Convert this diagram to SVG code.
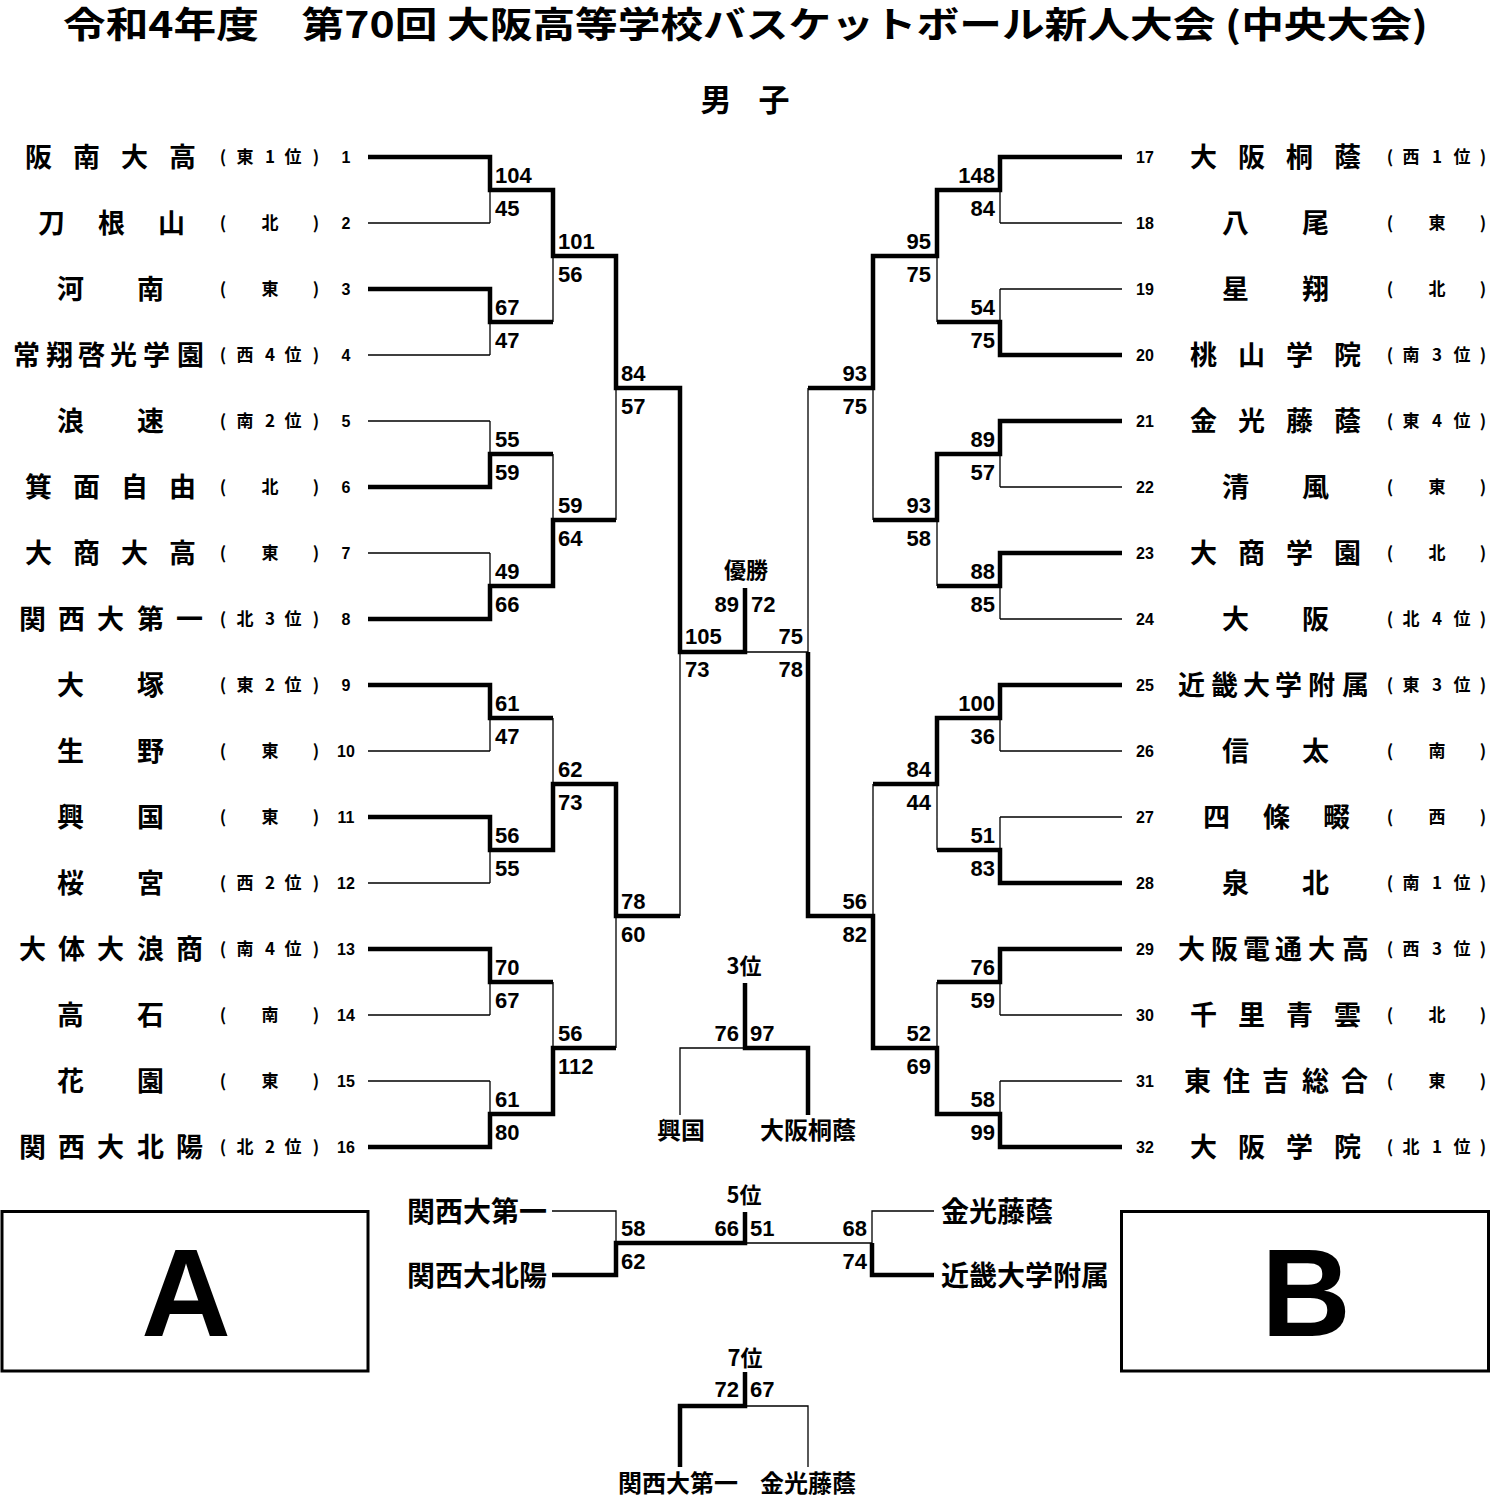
<svg xmlns="http://www.w3.org/2000/svg" width="1491" height="1500" viewBox="0 0 1491 1500">
<style>
text{fill:#000}
.title{font-family:"Noto Sans CJK JP","Noto Sans CJK SC",sans-serif;font-weight:700;font-size:36px}
.hd{font-family:"Noto Sans CJK JP","Noto Sans CJK SC",sans-serif;font-weight:700;font-size:31px}
.name{font-family:"Noto Sans CJK JP","Noto Sans CJK SC",sans-serif;font-weight:700;font-size:27px}
.seed{font-family:"Noto Sans CJK JP","Noto Sans CJK SC",sans-serif;font-weight:700;font-size:17px;text-anchor:middle}
.num{font-family:"Liberation Sans",Arial,sans-serif;font-weight:700;font-size:16px;text-anchor:middle}
.sc{font-family:"Liberation Sans",Arial,sans-serif;font-weight:700;font-size:22px}
.end{text-anchor:end}
.mid{text-anchor:middle}
.lbl{font-family:"Noto Sans CJK JP","Noto Sans CJK SC",sans-serif;font-weight:700;font-size:22px;text-anchor:middle}
.t24{font-family:"Noto Sans CJK JP","Noto Sans CJK SC",sans-serif;font-weight:700;font-size:24px;text-anchor:middle}
.t28{font-family:"Noto Sans CJK JP","Noto Sans CJK SC",sans-serif;font-weight:700;font-size:28px}
.big{font-family:"Liberation Sans",Arial,sans-serif;font-weight:700;font-size:124px;text-anchor:middle}
.thick{stroke:#000;stroke-width:4.5;fill:none;stroke-linejoin:miter}
.thin{stroke:#000;stroke-width:1.3;fill:none}
.box{stroke:#000;stroke-width:3;fill:#fff}
</style>
<rect width="1491" height="1500" fill="#fff"/>
<text class="title" x="63" y="38" textLength="1365" lengthAdjust="spacingAndGlyphs">令和4年度　第70回 大阪高等学校バスケットボール新人大会 (中央大会)</text>
<text class="hd mid" x="745" y="111" word-spacing="20">男 子</text>

<g id="connectors">
<path class="thin" d="M368 223H490M368 355H490M368 421H490M368 553H490M368 751H490M368 883H490M368 1015H490M368 1081H490M490 190V223M490 322V355M490 421V454M490 553V586M490 718V751M490 850V883M490 982V1015M490 1081V1114M553 256V322M553 454V520M553 718V784M553 982V1048M616 388V520M616 916V1048M680 652V916"/>
<path class="thin" d="M1000 223H1122M1000 289H1122M1000 487H1122M1000 619H1122M1000 751H1122M1000 817H1122M1000 1015H1122M1000 1081H1122M1000 190V223M1000 289V322M1000 454V487M1000 586V619M1000 718V751M1000 817V850M1000 982V1015M1000 1081V1114M937 256V322M937 520V586M937 784V850M937 982V1048M873 388V520M873 784V916M808 388V652M745 652H808"/>
<path class="thick" d="M368 157H490V190H553V256H616V388H680V652H745V588"/>
<path class="thick" d="M368 289H490V322H553"/>
<path class="thick" d="M368 487H490V454H553"/>
<path class="thick" d="M368 619H490V586H553V520H616"/>
<path class="thick" d="M368 685H490V718H553"/>
<path class="thick" d="M368 817H490V850H553V784H616V916H680"/>
<path class="thick" d="M368 949H490V982H553"/>
<path class="thick" d="M368 1147H490V1114H553V1048H616"/>
<path class="thick" d="M1122 157H1000V190H937V256H873V388H808"/>
<path class="thick" d="M1122 355H1000V322H937"/>
<path class="thick" d="M1122 421H1000V454H937V520H873"/>
<path class="thick" d="M1122 553H1000V586H937"/>
<path class="thick" d="M1122 685H1000V718H937V784H873"/>
<path class="thick" d="M1122 883H1000V850H937"/>
<path class="thick" d="M1122 949H1000V982H937"/>
<path class="thick" d="M1122 1147H1000V1114H937V1048H873V916H808V652"/>
<path class="thick" d="M745 983V1048H808V1115"/>
<path class="thin" d="M745 1048H680V1115"/>
<path class="thick" d="M552 1275H616V1243H745V1212"/>
<path class="thin" d="M552 1211H616V1243"/>
<path class="thick" d="M934 1275H872V1243"/>
<path class="thin" d="M934 1211H872V1243H745"/>
<path class="thick" d="M745 1372V1406H680V1467"/>
<path class="thin" d="M745 1406H808V1467"/>
</g>

<g id="scores">
<text class="sc" x="495" y="183">104</text><text class="sc" x="495" y="216">45</text>
<text class="sc" x="495" y="315">67</text><text class="sc" x="495" y="348">47</text>
<text class="sc" x="495" y="447">55</text><text class="sc" x="495" y="480">59</text>
<text class="sc" x="495" y="579">49</text><text class="sc" x="495" y="612">66</text>
<text class="sc" x="495" y="711">61</text><text class="sc" x="495" y="744">47</text>
<text class="sc" x="495" y="843">56</text><text class="sc" x="495" y="876">55</text>
<text class="sc" x="495" y="975">70</text><text class="sc" x="495" y="1008">67</text>
<text class="sc" x="495" y="1107">61</text><text class="sc" x="495" y="1140">80</text>
<text class="sc" x="558" y="249">101</text><text class="sc" x="558" y="282">56</text>
<text class="sc" x="558" y="513">59</text><text class="sc" x="558" y="546">64</text>
<text class="sc" x="558" y="777">62</text><text class="sc" x="558" y="810">73</text>
<text class="sc" x="558" y="1041">56</text><text class="sc" x="558" y="1074">112</text>
<text class="sc" x="621" y="381">84</text><text class="sc" x="621" y="414">57</text>
<text class="sc" x="621" y="909">78</text><text class="sc" x="621" y="942">60</text>
<text class="sc" x="685" y="644">105</text><text class="sc" x="685" y="677">73</text>
<text class="sc end" x="995" y="183">148</text><text class="sc end" x="995" y="216">84</text>
<text class="sc end" x="995" y="315">54</text><text class="sc end" x="995" y="348">75</text>
<text class="sc end" x="995" y="447">89</text><text class="sc end" x="995" y="480">57</text>
<text class="sc end" x="995" y="579">88</text><text class="sc end" x="995" y="612">85</text>
<text class="sc end" x="995" y="711">100</text><text class="sc end" x="995" y="744">36</text>
<text class="sc end" x="995" y="843">51</text><text class="sc end" x="995" y="876">83</text>
<text class="sc end" x="995" y="975">76</text><text class="sc end" x="995" y="1008">59</text>
<text class="sc end" x="995" y="1107">58</text><text class="sc end" x="995" y="1140">99</text>
<text class="sc end" x="931" y="249">95</text><text class="sc end" x="931" y="282">75</text>
<text class="sc end" x="931" y="513">93</text><text class="sc end" x="931" y="546">58</text>
<text class="sc end" x="931" y="777">84</text><text class="sc end" x="931" y="810">44</text>
<text class="sc end" x="931" y="1041">52</text><text class="sc end" x="931" y="1074">69</text>
<text class="sc end" x="867" y="381">93</text><text class="sc end" x="867" y="414">75</text>
<text class="sc end" x="867" y="909">56</text><text class="sc end" x="867" y="942">82</text>
<text class="sc end" x="803" y="644">75</text><text class="sc end" x="803" y="677">78</text>
</g>

<g id="final">
<text class="lbl" x="746" y="578">優勝</text>
<text class="sc end" x="739" y="612">89</text><text class="sc" x="751" y="612">72</text>
</g>
<g id="third">
<text class="lbl" x="744" y="974">3位</text>
<text class="sc end" x="739" y="1041">76</text><text class="sc" x="750" y="1041">97</text>
<text class="t24" x="681" y="1139">興国</text>
<text class="t24" x="808" y="1139">大阪桐蔭</text>
</g>
<g id="fifth">
<text class="lbl" x="744" y="1203">5位</text>
<text class="t28" x="407" y="1222">関西大第一</text>
<text class="t28" x="407" y="1286">関西大北陽</text>
<text class="t28" x="941" y="1222">金光藤蔭</text>
<text class="t28" x="941" y="1286">近畿大学附属</text>
<text class="sc" x="621" y="1236">58</text><text class="sc" x="621" y="1269">62</text>
<text class="sc end" x="739" y="1236">66</text><text class="sc" x="750" y="1236">51</text>
<text class="sc end" x="867" y="1236">68</text><text class="sc end" x="867" y="1269">74</text>
</g>
<g id="seventh">
<text class="lbl" x="745" y="1366">7位</text>
<text class="sc end" x="739" y="1397">72</text><text class="sc" x="750" y="1397">67</text>
<text class="t24" x="678" y="1492">関西大第一</text>
<text class="t24" x="808" y="1492">金光藤蔭</text>
</g>
<g id="box-A"><rect class="box" x="2" y="1211.5" width="366" height="159.5"/><text class="big" x="186" y="1336">A</text></g>
<g id="box-B"><rect class="box" x="1121.5" y="1211.5" width="367" height="159.5"/><text class="big" x="1306" y="1336">B</text></g>

<g id="team-1"><text class="name" x="25 73 121 169" y="167">阪南大高</text><text class="seed" x="223 245 270 293 316" y="163">(東1位)</text><text class="num" x="346" y="163">1</text></g>
<g id="team-2"><text class="name" x="38 98 158" y="233">刀根山</text><text class="seed" x="223 270 316" y="229">(北)</text><text class="num" x="346" y="229">2</text></g>
<g id="team-3"><text class="name" x="57 137" y="299">河南</text><text class="seed" x="223 270 316" y="295">(東)</text><text class="num" x="346" y="295">3</text></g>
<g id="team-4"><text class="name" x="13 46 78 110 143 177" y="365">常翔啓光学園</text><text class="seed" x="223 245 270 293 316" y="361">(西4位)</text><text class="num" x="346" y="361">4</text></g>
<g id="team-5"><text class="name" x="57 137" y="431">浪速</text><text class="seed" x="223 245 270 293 316" y="427">(南2位)</text><text class="num" x="346" y="427">5</text></g>
<g id="team-6"><text class="name" x="25 73 121 169" y="497">箕面自由</text><text class="seed" x="223 270 316" y="493">(北)</text><text class="num" x="346" y="493">6</text></g>
<g id="team-7"><text class="name" x="25 73 121 169" y="563">大商大高</text><text class="seed" x="223 270 316" y="559">(東)</text><text class="num" x="346" y="559">7</text></g>
<g id="team-8"><text class="name" x="19 58 97 137 176" y="629">関西大第一</text><text class="seed" x="223 245 270 293 316" y="625">(北3位)</text><text class="num" x="346" y="625">8</text></g>
<g id="team-9"><text class="name" x="57 137" y="695">大塚</text><text class="seed" x="223 245 270 293 316" y="691">(東2位)</text><text class="num" x="346" y="691">9</text></g>
<g id="team-10"><text class="name" x="57 137" y="761">生野</text><text class="seed" x="223 270 316" y="757">(東)</text><text class="num" x="346" y="757">10</text></g>
<g id="team-11"><text class="name" x="57 137" y="827">興国</text><text class="seed" x="223 270 316" y="823">(東)</text><text class="num" x="346" y="823">11</text></g>
<g id="team-12"><text class="name" x="57 137" y="893">桜宮</text><text class="seed" x="223 245 270 293 316" y="889">(西2位)</text><text class="num" x="346" y="889">12</text></g>
<g id="team-13"><text class="name" x="19 58 97 137 176" y="959">大体大浪商</text><text class="seed" x="223 245 270 293 316" y="955">(南4位)</text><text class="num" x="346" y="955">13</text></g>
<g id="team-14"><text class="name" x="57 137" y="1025">高石</text><text class="seed" x="223 270 316" y="1021">(南)</text><text class="num" x="346" y="1021">14</text></g>
<g id="team-15"><text class="name" x="57 137" y="1091">花園</text><text class="seed" x="223 270 316" y="1087">(東)</text><text class="num" x="346" y="1087">15</text></g>
<g id="team-16"><text class="name" x="19 58 97 137 176" y="1157">関西大北陽</text><text class="seed" x="223 245 270 293 316" y="1153">(北2位)</text><text class="num" x="346" y="1153">16</text></g>

<g id="team-17"><text class="num" x="1145" y="163">17</text><text class="name" x="1190 1238 1286 1334" y="167">大阪桐蔭</text><text class="seed" x="1390 1411 1437 1462 1483" y="163">(西1位)</text></g>
<g id="team-18"><text class="num" x="1145" y="229">18</text><text class="name" x="1222 1302" y="233">八尾</text><text class="seed" x="1390 1437 1483" y="229">(東)</text></g>
<g id="team-19"><text class="num" x="1145" y="295">19</text><text class="name" x="1222 1302" y="299">星翔</text><text class="seed" x="1390 1437 1483" y="295">(北)</text></g>
<g id="team-20"><text class="num" x="1145" y="361">20</text><text class="name" x="1190 1238 1286 1334" y="365">桃山学院</text><text class="seed" x="1390 1411 1437 1462 1483" y="361">(南3位)</text></g>
<g id="team-21"><text class="num" x="1145" y="427">21</text><text class="name" x="1190 1238 1286 1334" y="431">金光藤蔭</text><text class="seed" x="1390 1411 1437 1462 1483" y="427">(東4位)</text></g>
<g id="team-22"><text class="num" x="1145" y="493">22</text><text class="name" x="1222 1302" y="497">清風</text><text class="seed" x="1390 1437 1483" y="493">(東)</text></g>
<g id="team-23"><text class="num" x="1145" y="559">23</text><text class="name" x="1190 1238 1286 1334" y="563">大商学園</text><text class="seed" x="1390 1437 1483" y="559">(北)</text></g>
<g id="team-24"><text class="num" x="1145" y="625">24</text><text class="name" x="1222 1302" y="629">大阪</text><text class="seed" x="1390 1411 1437 1462 1483" y="625">(北4位)</text></g>
<g id="team-25"><text class="num" x="1145" y="691">25</text><text class="name" x="1178 1211 1243 1275 1308 1342" y="695">近畿大学附属</text><text class="seed" x="1390 1411 1437 1462 1483" y="691">(東3位)</text></g>
<g id="team-26"><text class="num" x="1145" y="757">26</text><text class="name" x="1222 1302" y="761">信太</text><text class="seed" x="1390 1437 1483" y="757">(南)</text></g>
<g id="team-27"><text class="num" x="1145" y="823">27</text><text class="name" x="1203 1263 1323" y="827">四條畷</text><text class="seed" x="1390 1437 1483" y="823">(西)</text></g>
<g id="team-28"><text class="num" x="1145" y="889">28</text><text class="name" x="1222 1302" y="893">泉北</text><text class="seed" x="1390 1411 1437 1462 1483" y="889">(南1位)</text></g>
<g id="team-29"><text class="num" x="1145" y="955">29</text><text class="name" x="1178 1211 1243 1275 1308 1342" y="959">大阪電通大高</text><text class="seed" x="1390 1411 1437 1462 1483" y="955">(西3位)</text></g>
<g id="team-30"><text class="num" x="1145" y="1021">30</text><text class="name" x="1190 1238 1286 1334" y="1025">千里青雲</text><text class="seed" x="1390 1437 1483" y="1021">(北)</text></g>
<g id="team-31"><text class="num" x="1145" y="1087">31</text><text class="name" x="1184 1223 1262 1302 1341" y="1091">東住吉総合</text><text class="seed" x="1390 1437 1483" y="1087">(東)</text></g>
<g id="team-32"><text class="num" x="1145" y="1153">32</text><text class="name" x="1190 1238 1286 1334" y="1157">大阪学院</text><text class="seed" x="1390 1411 1437 1462 1483" y="1153">(北1位)</text></g>
</svg>
